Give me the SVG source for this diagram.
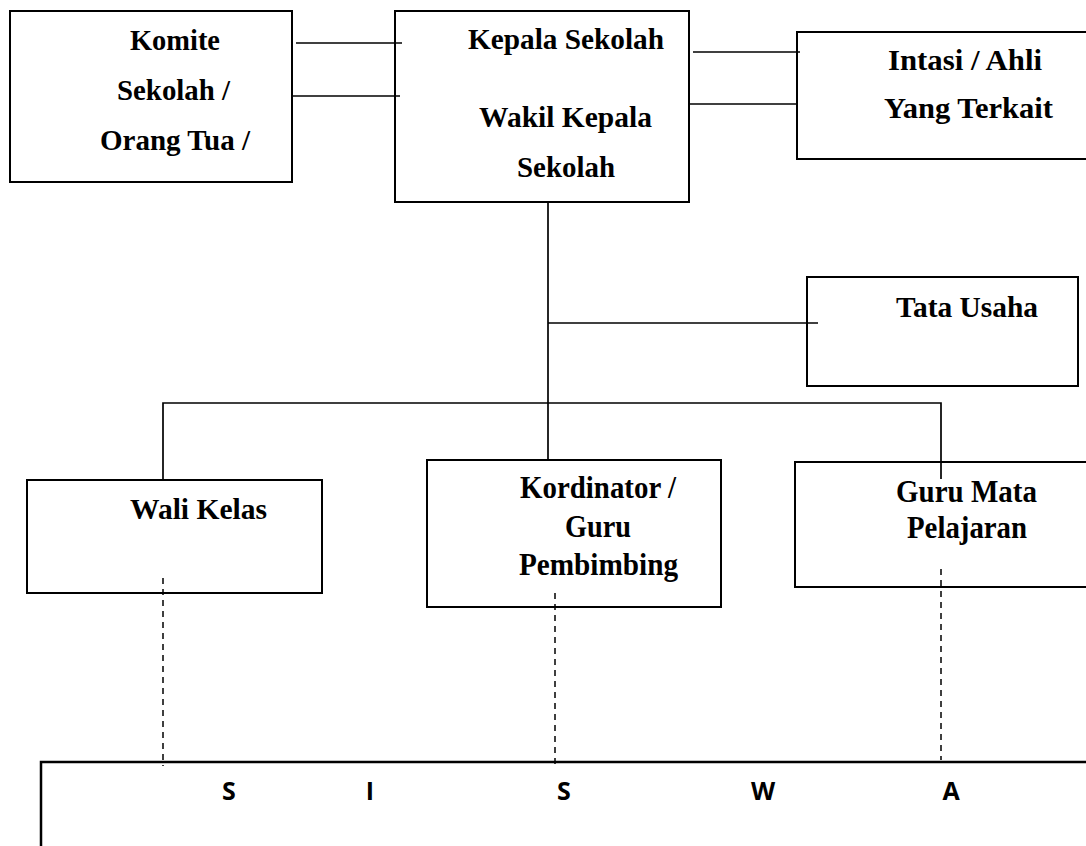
<svg xmlns="http://www.w3.org/2000/svg" width="1086" height="846" viewBox="0 0 1086 846">
<style>
.box{fill:#fff;stroke:#000;stroke-width:2}
.ln{fill:none;stroke:#000;stroke-width:1.7}
.dash{fill:none;stroke:#000;stroke-width:1.5;stroke-dasharray:6 5}
.t{font-family:"Liberation Serif","Times New Roman",serif;font-weight:bold;font-size:29px;fill:#000}
.c{font-size:31px}
.s{font-family:"Open Sans","Liberation Sans",sans-serif;font-weight:bold;font-size:25px;fill:#000;text-anchor:middle}
</style>
<rect width="1086" height="846" fill="#fff"/>
<g id="komite">
<rect class="box" x="10" y="11" width="282" height="171"/>
<text class="t" x="130" y="50" textLength="90" lengthAdjust="spacingAndGlyphs">Komite</text>
<text class="t" x="117" y="100" textLength="113" lengthAdjust="spacingAndGlyphs">Sekolah /</text>
<text class="t" x="100" y="150" textLength="150" lengthAdjust="spacingAndGlyphs">Orang Tua /</text>
</g>
<g id="kepala">
<rect class="box" x="395" y="11" width="294" height="191"/>
<text class="t" x="468" y="49" textLength="196" lengthAdjust="spacingAndGlyphs">Kepala Sekolah</text>
<text class="t" x="479" y="127" textLength="173" lengthAdjust="spacingAndGlyphs">Wakil Kepala</text>
<text class="t" x="517" y="177" textLength="98" lengthAdjust="spacingAndGlyphs">Sekolah</text>
</g>
<g id="intasi">
<rect class="box" x="797" y="32" width="300" height="127"/>
<text class="t" x="888" y="70" textLength="154" lengthAdjust="spacingAndGlyphs">Intasi / Ahli</text>
<text class="t" x="884" y="118" textLength="169" lengthAdjust="spacingAndGlyphs">Yang Terkait</text>
</g>
<g id="tata-usaha">
<rect class="box" x="807" y="277" width="271" height="109"/>
<text class="t" x="896" y="317" textLength="142" lengthAdjust="spacingAndGlyphs">Tata Usaha</text>
</g>
<g id="wali-kelas">
<rect class="box" x="27" y="480" width="295" height="113"/>
<text class="t" x="130" y="519" textLength="137" lengthAdjust="spacingAndGlyphs">Wali Kelas</text>
</g>
<g id="kordinator">
<rect class="box" x="427" y="460" width="294" height="147"/>
<text class="t c" x="520" y="498" textLength="156" lengthAdjust="spacingAndGlyphs">Kordinator /</text>
<text class="t c" x="565" y="537" textLength="66" lengthAdjust="spacingAndGlyphs">Guru</text>
<text class="t c" x="519" y="575" textLength="159" lengthAdjust="spacingAndGlyphs">Pembimbing</text>
</g>
<g id="guru-mata">
<rect class="box" x="795" y="462" width="300" height="125"/>
<text class="t c" x="896" y="502" textLength="141" lengthAdjust="spacingAndGlyphs">Guru Mata</text>
<text class="t c" x="907" y="538" textLength="120" lengthAdjust="spacingAndGlyphs">Pelajaran</text>
</g>
<g id="siswa">
<rect class="box" x="41" y="762" width="1060" height="100" style="stroke-width:2.5"/>
<text class="s" x="229" y="800">S</text>
<text class="s" x="370" y="800">I</text>
<text class="s" x="564" y="800">S</text>
<text class="s" x="763" y="800">W</text>
<text class="s" x="951" y="800">A</text>
</g>
<g id="connectors">
<line class="ln" x1="296" y1="43" x2="402" y2="43"/>
<line class="ln" x1="292" y1="96" x2="400" y2="96"/>
<line class="ln" x1="693" y1="52" x2="800" y2="52"/>
<line class="ln" x1="690" y1="104" x2="797" y2="104"/>
<line class="ln" x1="548" y1="202" x2="548" y2="460"/>
<line class="ln" x1="548" y1="323" x2="818" y2="323"/>
<polyline class="ln" points="163,480 163,403 941,403 941,479"/>
<line class="dash" x1="163" y1="578" x2="163" y2="766"/>
<line class="dash" x1="555" y1="593" x2="555" y2="766"/>
<line class="dash" x1="941" y1="569" x2="941" y2="760"/>
</g>
</svg>
